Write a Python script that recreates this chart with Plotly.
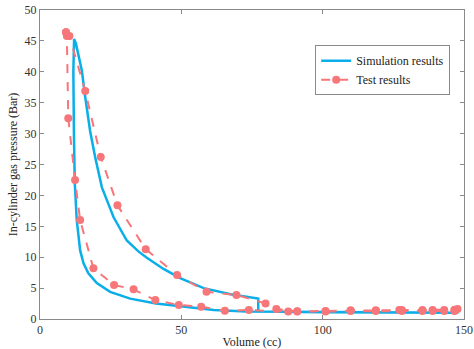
import plotly.graph_objects as go

# Simulation results (closed P-V loop)
sim_volume = [11.8, 11.9, 12.06, 12.7, 13.6, 14.8, 16.0, 17.7, 19.5, 21.9, 26.0, 30.7, 34.9, 37.8,
              43.7, 49.6, 57.9, 67.4, 77.2, 77.2, 100.0, 125.0, 148.0,
              125.0, 100.0, 73.0, 61.5, 49.6, 41.0, 31.9, 24.8, 20.1, 17.1, 15.4, 14.2, 13.0,
              12.3, 12.0, 11.8]
sim_pressure = [40.0, 44.0, 45.3, 44.6, 42.9, 40.2, 35.9, 30.5, 26.2, 21.3, 16.5, 12.7, 10.9, 9.9,
                8.1, 6.6, 5.0, 4.0, 3.3, 1.2, 1.1, 1.05, 1.0,
                1.0, 1.05, 1.2, 1.45, 2.0, 2.5, 3.3, 4.4, 5.8, 7.4, 9.0, 11.1, 16.0,
                22.0, 30.0, 40.0]

# Test results (measured points)
test_volume = [9.2, 10.4, 16.0, 21.5, 27.4, 37.4, 48.5, 58.9, 69.5, 79.8, 83.6, 91.0, 101.0,
               109.9, 118.8, 127.1, 128.0, 135.3, 138.9, 143.0, 146.6, 147.7,
               146.6, 143.0, 138.9, 135.3, 128.0, 118.8, 109.9, 101.0, 91.0, 87.8,
               73.9, 65.4, 57.0, 49.1, 40.8, 33.1, 26.2, 18.9, 14.2, 12.4, 10.0, 9.5, 9.2]
test_pressure = [46.4, 45.8, 36.9, 26.2, 18.4, 11.3, 7.1, 4.4, 3.9, 2.5, 1.6, 1.25, 1.3,
                 1.4, 1.4, 1.45, 1.45, 1.45, 1.45, 1.45, 1.5, 1.6,
                 1.3, 1.3, 1.3, 1.3, 1.3, 1.3, 1.3, 1.2, 1.2, 1.2,
                 1.45, 1.34, 2.0, 2.26, 3.06, 4.8, 5.5, 8.2, 16.0, 22.5, 32.5, 45.8, 46.4]

x_ticks = [0, 50, 100, 150]
y_ticks = [0, 5, 10, 15, 20, 25, 30, 35, 40, 45, 50]

font_family = "Liberation Serif"
blue = "#0aaee8"
red = "#f7767a"

fig = go.Figure()
fig.add_trace(go.Scatter(
    x=sim_volume, y=sim_pressure, mode="lines", name="Simulation results",
    line=dict(color=blue, width=2.5)))
fig.add_trace(go.Scatter(
    x=test_volume, y=test_pressure, mode="lines+markers", name="Test results",
    line=dict(color=red, width=2, dash="dash"),
    marker=dict(color=red, size=8, symbol="circle")))

axis_common = dict(
    showgrid=False, zeroline=False, showline=True, linecolor="#8a8a8a", linewidth=1,
    mirror="ticks", ticks="inside", ticklen=4, tickcolor="#8a8a8a",
    tickfont=dict(family=font_family, size=12, color="#333333"),
)

fig.update_layout(
    width=474, height=349,
    margin=dict(l=40, r=10, t=10, b=30),
    paper_bgcolor="white", plot_bgcolor="white",
    font=dict(family=font_family, size=12, color="#222222"),
    xaxis=dict(range=[0, 150], tickvals=x_ticks, automargin=False,
               title=dict(text="Volume (cc)", standoff=2,
                          font=dict(family=font_family, size=12, color="#222222")),
               **axis_common),
    yaxis=dict(range=[0, 50], tickvals=y_ticks, automargin=False,
               title=dict(text="In-cylinder gas pressure (Bar)", standoff=4,
                          font=dict(family=font_family, size=12, color="#222222")),
               **axis_common),
    legend=dict(x=0.649, y=0.886, xanchor="left", yanchor="top",
                bgcolor="white", bordercolor="#8a8a8a", borderwidth=1,
                font=dict(family=font_family, size=12, color="#222222"),
                tracegroupgap=0, itemwidth=30),
    showlegend=True,
)

fig.write_html("out.html", config={"displayModeBar": False},
               post_script="document.body.style.margin='0';")
